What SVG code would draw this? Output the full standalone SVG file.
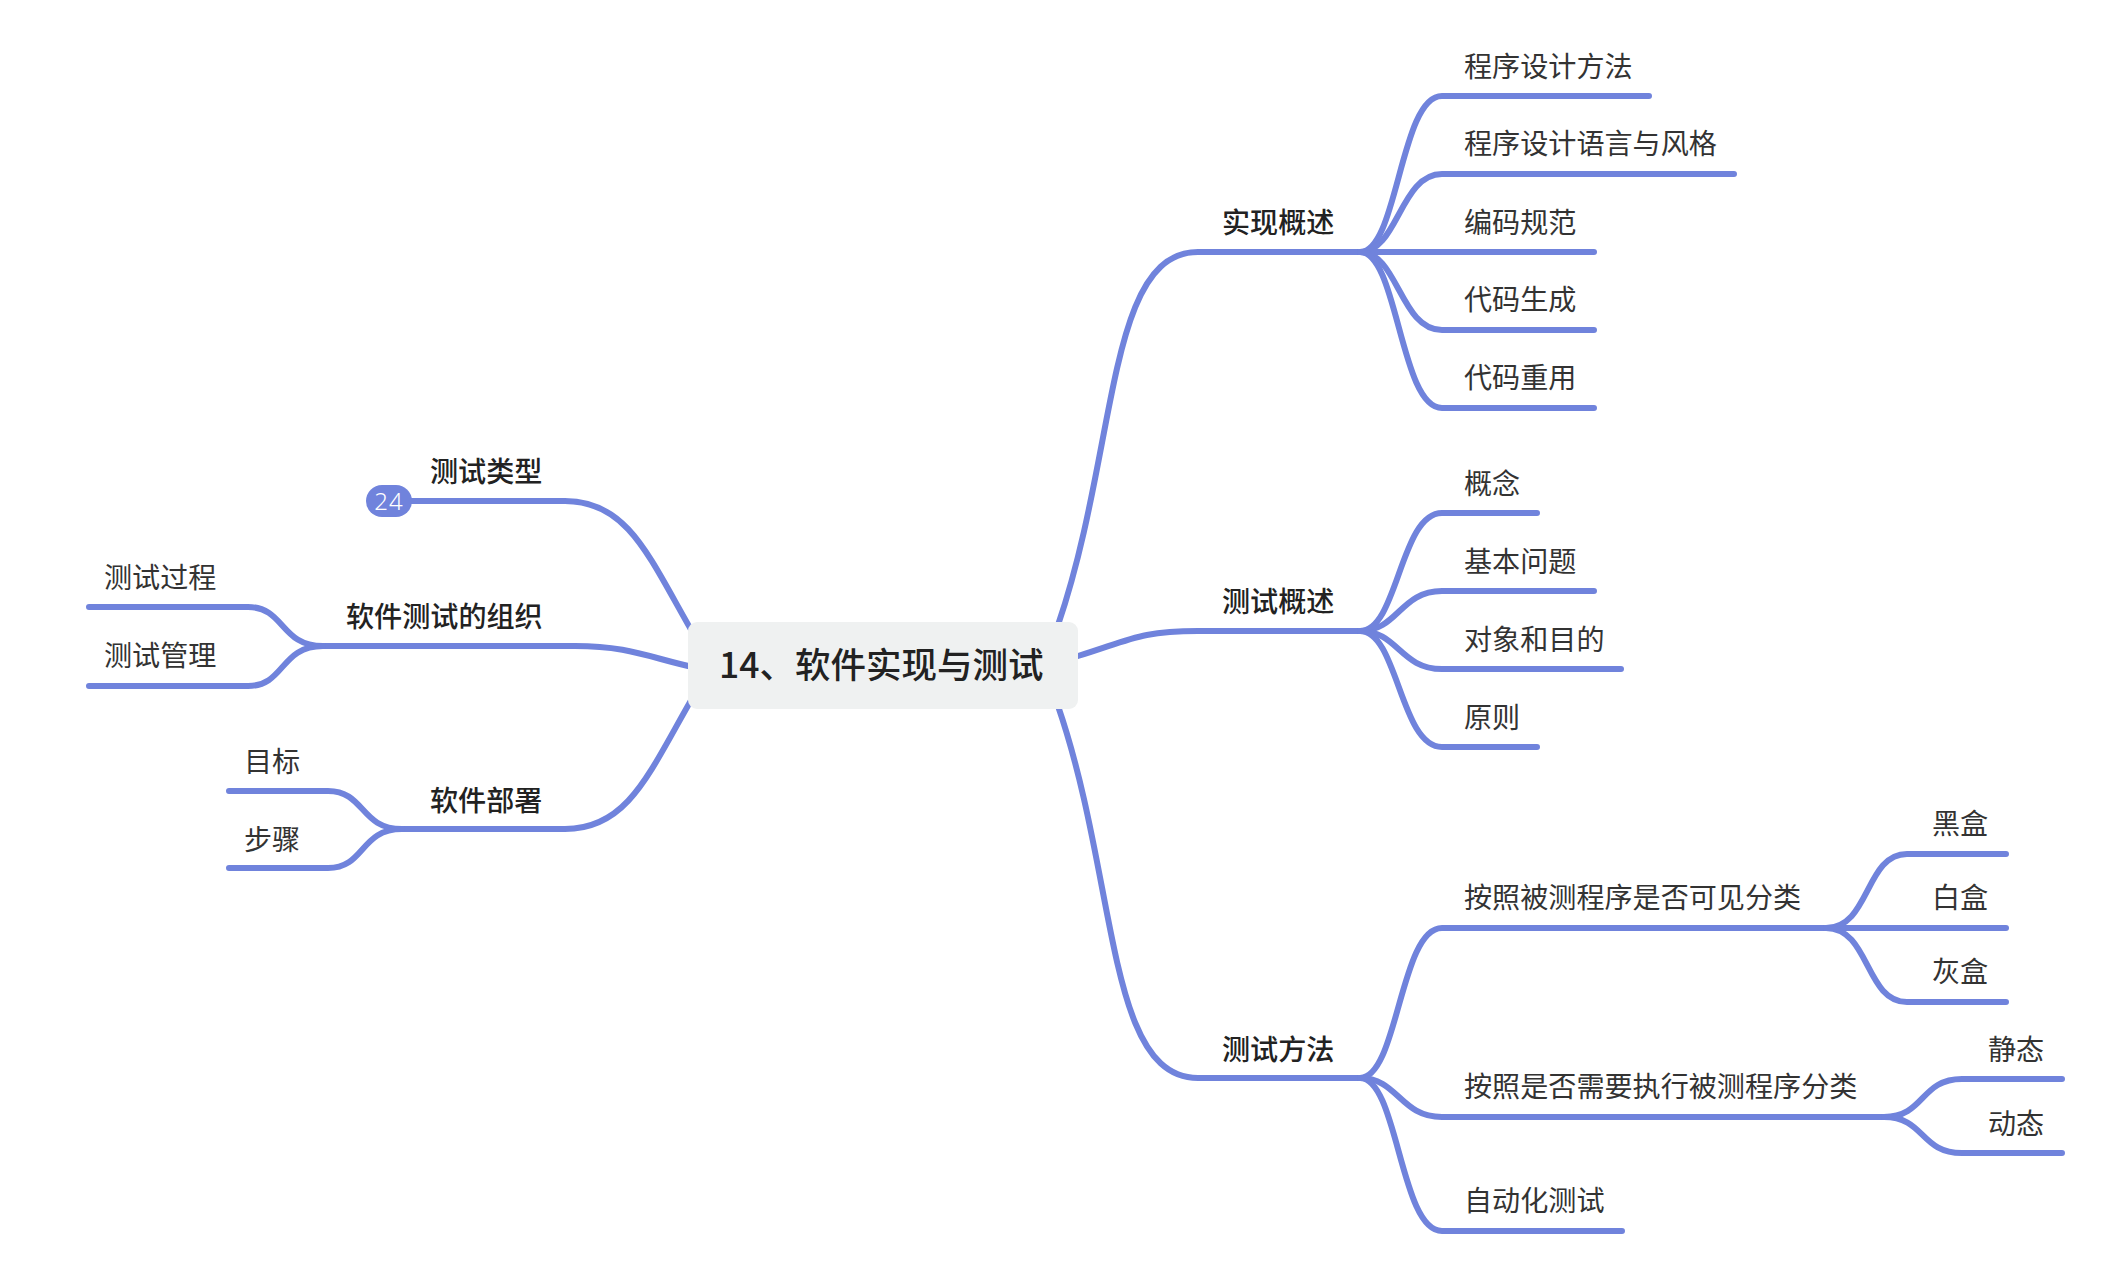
<svg xmlns="http://www.w3.org/2000/svg" width="2122" height="1266" viewBox="0 0 2122 1266">
<style>
text{font-family:"Noto Sans CJK SC","Liberation Sans",sans-serif;fill:#333;font-size:28.1px}
.b{font-weight:500;fill:#222}
.c path{fill:none;stroke:#7083dc;stroke-width:6;stroke-linecap:round}
</style>
<rect width="2122" height="1266" fill="#fff"/>
<g id="connectors" class="c">
<path d="M1058 625C1118 450 1106 252 1198 252H1360"/>
<path d="M1078 656C1130 640 1140 631 1198 631H1360"/>
<path d="M1058 706C1118 880 1106 1078 1198 1078H1360"/>
<path d="M1360 252C1398 252 1400 96 1442 96H1649"/>
<path d="M1360 252C1398 252 1400 174 1442 174H1734"/>
<path d="M1360 252H1594"/>
<path d="M1360 252C1398 252 1400 330 1442 330H1594"/>
<path d="M1360 252C1398 252 1400 408 1442 408H1594"/>
<path d="M1360 631C1398 631 1400 513 1442 513H1537"/>
<path d="M1360 631C1398 631 1400 591 1442 591H1594"/>
<path d="M1360 631C1398 631 1400 669 1442 669H1621"/>
<path d="M1360 631C1398 631 1400 747 1442 747H1537"/>
<path d="M1360 1078C1398 1078 1400 928 1442 928H1826"/>
<path d="M1360 1078C1398 1078 1400 1117 1442 1117H1884"/>
<path d="M1360 1078C1398 1078 1400 1231 1442 1231H1622"/>
<path d="M1826 928C1870 928 1865 854 1907 854H2006"/>
<path d="M1826 928H2006"/>
<path d="M1826 928C1870 928 1865 1002 1907 1002H2006"/>
<path d="M1884 1117C1925 1117 1920 1079 1962 1079H2062"/>
<path d="M1884 1117C1925 1117 1920 1153 1962 1153H2062"/>
<path d="M697 640C650 560 630 501 565 501H400"/>
<path d="M697 668C650 658 630 646 575 646H323"/>
<path d="M697 690C650 770 630 829 565 829H402"/>
<path d="M323 646C280 646 285 607 248 607H89"/>
<path d="M323 646C280 646 285 686 248 686H89"/>
<path d="M402 829C360 829 365 791 328 791H229"/>
<path d="M402 829C360 829 365 868 328 868H229"/>
</g>
<g id="root"><rect x="688" y="622" width="390" height="87" rx="9" fill="#eff1f1"/><text class="b" x="719" y="678" style="font-size:35.5px">14、软件实现与测试</text></g>
<g id="n1"><text class="b" x="1222" y="233">实现概述</text></g>
<g id="n2"><text class="b" x="1222" y="612">测试概述</text></g>
<g id="n3"><text class="b" x="1222" y="1060">测试方法</text></g>
<g id="n11"><text x="1464" y="77">程序设计方法</text></g>
<g id="n12"><text x="1464" y="154">程序设计语言与风格</text></g>
<g id="n13"><text x="1464" y="233">编码规范</text></g>
<g id="n14"><text x="1464" y="310">代码生成</text></g>
<g id="n15"><text x="1464" y="388">代码重用</text></g>
<g id="n21"><text x="1464" y="494">概念</text></g>
<g id="n22"><text x="1464" y="572">基本问题</text></g>
<g id="n23"><text x="1464" y="650">对象和目的</text></g>
<g id="n24"><text x="1464" y="728">原则</text></g>
<g id="n31"><text x="1464" y="908">按照被测程序是否可见分类</text></g>
<g id="n32"><text x="1464" y="1097">按照是否需要执行被测程序分类</text></g>
<g id="n33"><text x="1464" y="1211">自动化测试</text></g>
<g id="n311"><text x="1932" y="834">黑盒</text></g>
<g id="n312"><text x="1932" y="908">白盒</text></g>
<g id="n313"><text x="1932" y="982">灰盒</text></g>
<g id="n321"><text x="1988" y="1060">静态</text></g>
<g id="n322"><text x="1988" y="1134">动态</text></g>
<g id="n4"><text class="b" x="430" y="482">测试类型</text><rect x="366" y="485" width="46" height="32" rx="16" fill="#7083dc"/><text x="389" y="510" text-anchor="middle" style="font-size:24px;letter-spacing:1px;fill:#fff;font-family:'Noto Sans',sans-serif;font-weight:300">24</text></g>
<g id="n5"><text class="b" x="346" y="627">软件测试的组织</text></g>
<g id="n51"><text x="104" y="588">测试过程</text></g>
<g id="n52"><text x="104" y="666">测试管理</text></g>
<g id="n6"><text class="b" x="430" y="811">软件部署</text></g>
<g id="n61"><text x="244" y="772">目标</text></g>
<g id="n62"><text x="244" y="850">步骤</text></g>
</svg>
